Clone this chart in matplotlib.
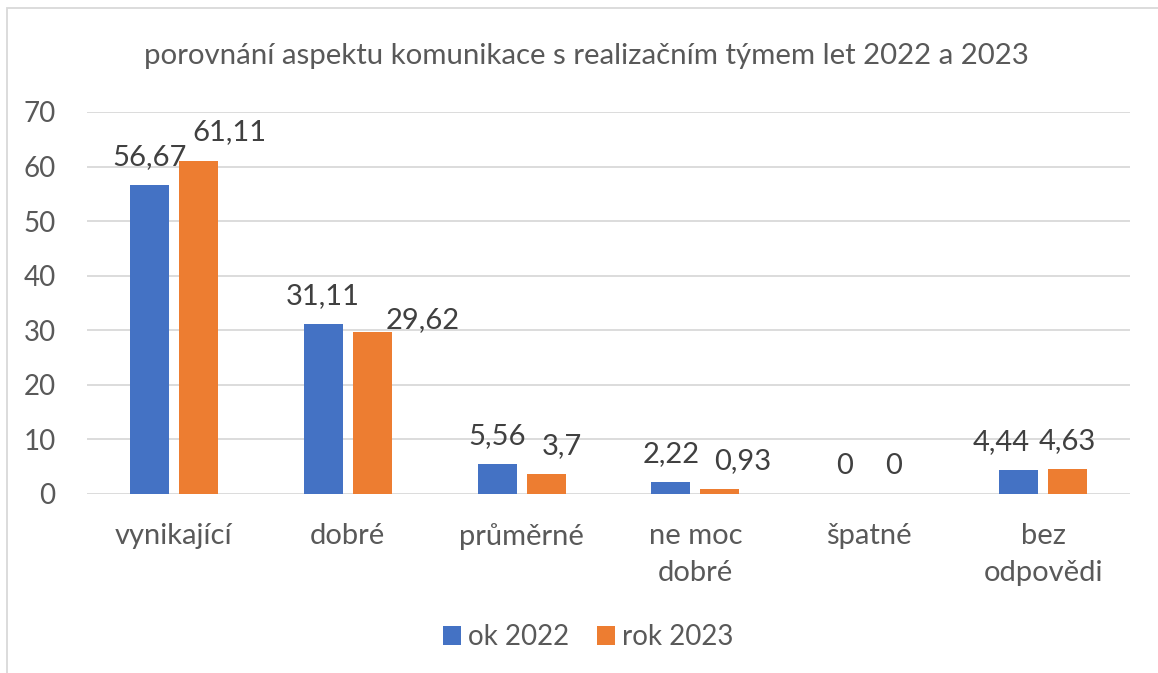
import matplotlib
matplotlib.use("Agg")
import matplotlib.pyplot as plt
from matplotlib.patches import Rectangle
import numpy as np

categories = ["vynikající", "dobré", "průměrné", "ne moc\ndobré", "špatné", "bez\nodpovědi"]
series_names = ["ok 2022", "rok 2023"]
values_2022 = [56.67, 31.11, 5.56, 2.22, 0, 4.44]
values_2023 = [61.11, 29.62, 3.7, 0.93, 0, 4.63]
labels_2022 = ["56,67", "31,11", "5,56", "2,22", "0", "4,44"]
labels_2023 = ["61,11", "29,62", "3,7", "0,93", "0", "4,63"]
title = "porovnání aspektu komunikace s realizačním týmem let 2022 a 2023"
yticks = [0, 10, 20, 30, 40, 50, 60, 70]

# label placement tweaks (pixels) as in the original
dx_2022 = [0, 0, 0, 0, 0, -17]
dy_2022 = [20, 20, 20, 20, 20, 20]
dx_2023 = [31, 50, 16, 23, 0, 0]
dy_2023 = [20, 4, 20, 20, 20, 20]

FONT = "Lato"
plt.rcParams["font.family"] = [FONT, "DejaVu Sans"]

W, H = 1158, 673
fig = plt.figure(figsize=(W / 100, H / 100), dpi=100)
fig.patch.set_facecolor("white")

# chart border (only left and top visible)
fig.add_artist(Rectangle((7 / W, -0.05), 1.2, (H - 8) / H + 0.05, transform=fig.transFigure,
                         fill=False, edgecolor="#D9D9D9", linewidth=1.3))

ax = fig.add_axes([87 / W, (H - 494) / H, (1130 - 87) / W, (494 - 112) / H])
x = np.arange(len(categories))
bw = 0.224
off = 0.141
c1, c2 = "#4472C4", "#ED7D31"
b1 = ax.bar(x - off, values_2022, bw, color=c1, label=series_names[0], zorder=3)
b2 = ax.bar(x + off, values_2023, bw, color=c2, label=series_names[1], zorder=3)

ax.set_xlim(-0.5, len(categories) - 0.5)
ax.set_ylim(0, 70)
ax.set_yticks(yticks)
ax.set_yticklabels([str(t) for t in yticks])
ax.yaxis.grid(True, color="#D9D9D9", linewidth=1.3, zorder=0)
ax.set_axisbelow(True)
for s in ax.spines.values():
    s.set_visible(False)
ax.tick_params(axis="y", length=0, labelsize=20, colors="#595959", pad=22.5)
ax.set_xticks(x)
ax.set_xticklabels(categories, linespacing=1.5)
ax.tick_params(axis="x", length=0, labelsize=21, colors="#595959", pad=21)

for i in range(len(categories)):
    ax.annotate(labels_2022[i], (x[i] - off, values_2022[i]), xytext=(dx_2022[i], dy_2022[i]),
                textcoords="offset pixels", ha="center", va="baseline", fontsize=21,
                color="#404040", zorder=4)
    ax.annotate(labels_2023[i], (x[i] + off, values_2023[i]), xytext=(dx_2023[i], dy_2023[i]),
                textcoords="offset pixels", ha="center", va="baseline", fontsize=21,
                color="#404040", zorder=4)

fig.text(586 / W, 1 - 64 / H, title, ha="center", va="baseline", fontsize=21.2, color="#595959")

leg = fig.legend(handles=[b1, b2], labels=series_names, loc="center", bbox_to_anchor=(588 / W, 1 - 637 / H),
                 ncol=2, frameon=False, fontsize=20, handlelength=0.65, handleheight=0.65,
                 handletextpad=0.25, columnspacing=1.0, labelcolor="#595959")

fig.savefig("out.png", dpi=100, facecolor="white")
